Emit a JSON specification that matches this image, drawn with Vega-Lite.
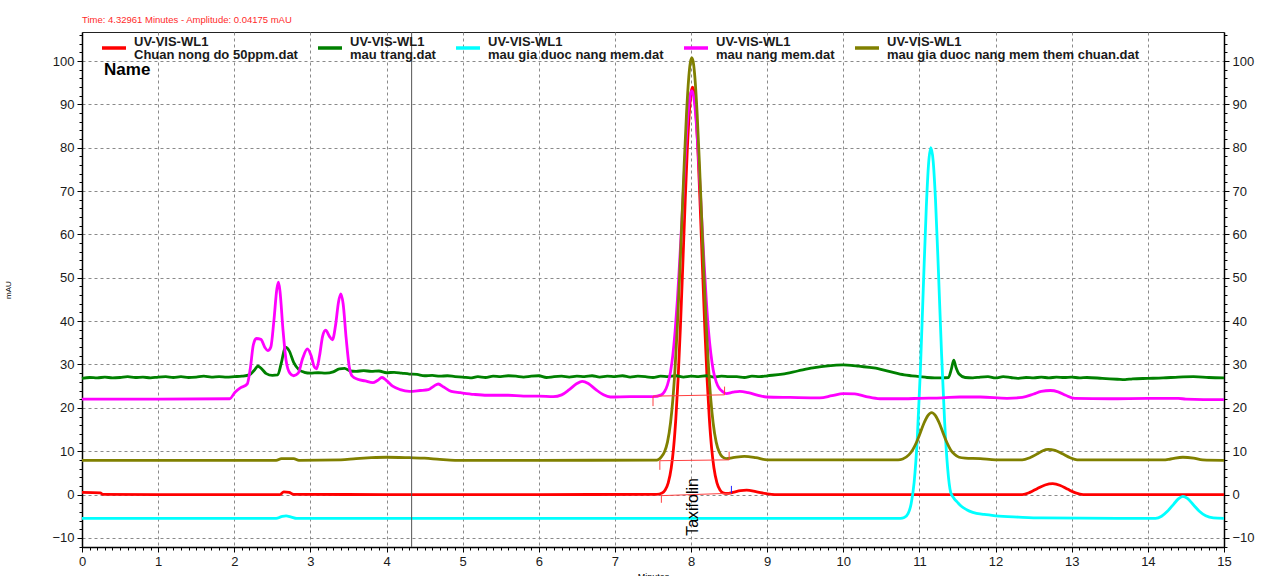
{
"$schema": "https://vega.github.io/schema/vega-lite/v6.json",
"width": 1142, "height": 515,
"autosize": {"type": "none"},
"padding": {"left": 82, "top": 32, "right": 56, "bottom": 29},
"background": "white",
"title": {"text": "Time:  4.32961 Minutes - Amplitude:  0.04175 mAU", "anchor": "start", "frame": "group", "fontSize": 9.5, "fontWeight": "normal", "color": "#ff2a2a", "font": "Liberation Sans", "offset": 0, "dy": 3, "baseline": "bottom"},
"config": {
  "view": {"stroke": "#222", "strokeWidth": 1},
  "font": "Liberation Sans",
  "axis": {"labelFont": "Liberation Sans", "labelFontSize": 13, "labelColor": "#1a1a1a", "domainColor": "#000", "domainWidth": 1.5, "tickColor": "#000", "gridColor": "#8a8a8a", "gridDash": [3, 3], "gridWidth": 1, "titleFont": "Liberation Sans", "titleColor": "#000", "labelFlush": false, "labelOverlap": false, "labelBound": false},
  "legend": {"orient": "none", "legendX": 18, "legendY": 2, "direction": "horizontal", "columns": 5, "symbolType": "stroke", "symbolStrokeWidth": 3.5, "symbolSize": 576, "labelFont": "Liberation Sans", "labelFontWeight": "bold", "labelFontSize": 13, "labelColor": "#1a1a1a", "labelOffset": 6, "columnPadding": 13, "labelLimit": 600, "padding": 0, "title": null}
},
"datasets": {
  "red": [{"t":0,"v":0.5},{"t":0.24,"v":0.4},{"t":0.27,"v":0.05},{"t":1.0,"v":0.0},{"t":2.0,"v":0.0},{"t":2.6,"v":0.0},{"t":2.65,"v":0.6},{"t":2.72,"v":0.5},{"t":2.78,"v":0.05},{"t":4.0,"v":0.0},{"t":6.0,"v":0.0},{"t":7.55,"v":0.05},{"t":7.62,"v":0.36},{"t":7.66,"v":1.04},{"t":7.70,"v":2.69},{"t":7.74,"v":6.18},{"t":7.77,"v":10.7},{"t":7.80,"v":17.5},{"t":7.83,"v":26.8},{"t":7.86,"v":38.6},{"t":7.89,"v":52.3},{"t":7.92,"v":66.4},{"t":7.95,"v":79.3},{"t":7.98,"v":88.9},{"t":8.00,"v":92.7},{"t":8.02,"v":94.0},{"t":8.04,"v":92.7},{"t":8.06,"v":88.9},{"t":8.09,"v":79.3},{"t":8.12,"v":66.4},{"t":8.15,"v":52.3},{"t":8.18,"v":38.6},{"t":8.21,"v":26.8},{"t":8.24,"v":17.5},{"t":8.27,"v":10.7},{"t":8.30,"v":6.18},{"t":8.34,"v":2.69},{"t":8.38,"v":1.04},{"t":8.42,"v":0.4},{"t":8.47,"v":0.25},{"t":8.55,"v":0.5},{"t":8.65,"v":0.9},{"t":8.73,"v":1.0},{"t":8.85,"v":0.7},{"t":8.99,"v":0.2},{"t":9.1,"v":0.0},{"t":11.0,"v":0.0},{"t":12.35,"v":0.0},{"t":12.45,"v":0.5},{"t":12.55,"v":1.4},{"t":12.65,"v":2.2},{"t":12.75,"v":2.5},{"t":12.85,"v":2.1},{"t":12.95,"v":1.2},{"t":13.05,"v":0.4},{"t":13.15,"v":0.0},{"t":15.0,"v":0.0}],
  "green": [{"t":0,"v":26.8},{"t":0.1,"v":27.0},{"t":0.2,"v":26.9},{"t":0.3,"v":27.1},{"t":0.4,"v":26.9},{"t":0.5,"v":27.0},{"t":0.6,"v":27.2},{"t":0.7,"v":27.0},{"t":0.8,"v":27.1},{"t":0.9,"v":26.9},{"t":1.0,"v":27.1},{"t":1.1,"v":27.2},{"t":1.2,"v":27.0},{"t":1.3,"v":27.2},{"t":1.4,"v":27.0},{"t":1.5,"v":27.1},{"t":1.6,"v":27.3},{"t":1.7,"v":27.1},{"t":1.8,"v":27.2},{"t":1.9,"v":27.1},{"t":2.0,"v":27.2},{"t":2.1,"v":27.3},{"t":2.2,"v":27.6},{"t":2.26,"v":28.6},{"t":2.31,"v":29.6},{"t":2.36,"v":29.0},{"t":2.42,"v":27.9},{"t":2.5,"v":27.5},{"t":2.57,"v":27.6},{"t":2.62,"v":30.5},{"t":2.67,"v":34.0},{"t":2.72,"v":33.2},{"t":2.78,"v":30.5},{"t":2.85,"v":28.8},{"t":2.92,"v":28.2},{"t":3.0,"v":28.0},{"t":3.1,"v":28.1},{"t":3.2,"v":28.0},{"t":3.3,"v":28.3},{"t":3.38,"v":29.0},{"t":3.45,"v":29.1},{"t":3.52,"v":28.5},{"t":3.6,"v":28.4},{"t":3.7,"v":28.6},{"t":3.8,"v":28.4},{"t":3.9,"v":28.5},{"t":4.0,"v":28.1},{"t":4.1,"v":28.2},{"t":4.2,"v":28.0},{"t":4.3,"v":27.8},{"t":4.4,"v":27.7},{"t":4.5,"v":27.4},{"t":4.6,"v":27.5},{"t":4.7,"v":27.3},{"t":4.8,"v":27.4},{"t":4.9,"v":27.2},{"t":5.0,"v":27.1},{"t":5.1,"v":26.9},{"t":5.2,"v":27.2},{"t":5.3,"v":27.0},{"t":5.4,"v":27.3},{"t":5.5,"v":27.2},{"t":5.6,"v":27.4},{"t":5.7,"v":27.3},{"t":5.8,"v":27.1},{"t":5.9,"v":27.3},{"t":6.0,"v":27.4},{"t":6.1,"v":27.0},{"t":6.2,"v":27.2},{"t":6.3,"v":27.3},{"t":6.4,"v":27.1},{"t":6.5,"v":27.3},{"t":6.6,"v":27.2},{"t":6.7,"v":27.4},{"t":6.8,"v":27.1},{"t":6.9,"v":27.3},{"t":7.0,"v":27.2},{"t":7.1,"v":27.4},{"t":7.2,"v":27.1},{"t":7.3,"v":27.3},{"t":7.4,"v":27.2},{"t":7.5,"v":27.0},{"t":7.6,"v":27.3},{"t":7.7,"v":27.2},{"t":7.8,"v":27.4},{"t":7.9,"v":27.1},{"t":8.0,"v":27.3},{"t":8.1,"v":27.2},{"t":8.2,"v":27.4},{"t":8.3,"v":27.1},{"t":8.4,"v":27.3},{"t":8.5,"v":27.2},{"t":8.6,"v":27.2},{"t":8.7,"v":27.0},{"t":8.8,"v":27.3},{"t":8.9,"v":27.2},{"t":9.0,"v":27.4},{"t":9.2,"v":27.8},{"t":9.4,"v":28.5},{"t":9.6,"v":29.2},{"t":9.8,"v":29.7},{"t":10.0,"v":29.9},{"t":10.1,"v":29.8},{"t":10.2,"v":29.6},{"t":10.4,"v":29.2},{"t":10.6,"v":28.4},{"t":10.8,"v":27.6},{"t":10.9,"v":27.4},{"t":11.0,"v":27.2},{"t":11.1,"v":27.0},{"t":11.2,"v":26.9},{"t":11.3,"v":26.9},{"t":11.38,"v":27.0},{"t":11.42,"v":29.0},{"t":11.45,"v":31.0},{"t":11.48,"v":29.3},{"t":11.52,"v":27.8},{"t":11.6,"v":27.0},{"t":11.7,"v":26.9},{"t":11.8,"v":27.1},{"t":11.9,"v":27.2},{"t":12.0,"v":26.9},{"t":12.1,"v":27.2},{"t":12.2,"v":27.0},{"t":12.3,"v":26.8},{"t":12.4,"v":27.0},{"t":12.5,"v":26.9},{"t":12.6,"v":27.1},{"t":12.7,"v":26.9},{"t":12.8,"v":27.1},{"t":12.9,"v":27.0},{"t":13.0,"v":27.1},{"t":13.1,"v":26.9},{"t":13.2,"v":27.0},{"t":13.4,"v":26.8},{"t":13.6,"v":26.6},{"t":13.7,"v":26.5},{"t":13.8,"v":26.7},{"t":14.0,"v":26.8},{"t":14.2,"v":26.9},{"t":14.4,"v":27.1},{"t":14.6,"v":27.2},{"t":14.8,"v":27.0},{"t":15.0,"v":26.9}],
  "cyan": [{"t":0,"v":-5.5},{"t":1.0,"v":-5.5},{"t":2.55,"v":-5.5},{"t":2.62,"v":-5.1},{"t":2.68,"v":-4.9},{"t":2.75,"v":-5.2},{"t":2.82,"v":-5.5},{"t":5.0,"v":-5.5},{"t":8.0,"v":-5.5},{"t":10.75,"v":-5.5},{"t":10.80,"v":-5.3},{"t":10.85,"v":-4.4},{"t":10.89,"v":-2.2},{"t":10.93,"v":2.8},{"t":10.97,"v":12.5},{"t":11.01,"v":27.8},{"t":11.05,"v":47.4},{"t":11.09,"v":66.4},{"t":11.12,"v":76.4},{"t":11.15,"v":80.0},{"t":11.18,"v":76.9},{"t":11.21,"v":68.2},{"t":11.25,"v":51.1},{"t":11.29,"v":32.5},{"t":11.33,"v":16.9},{"t":11.37,"v":6.1},{"t":11.41,"v":0.5},{"t":11.45,"v":-0.8},{"t":11.50,"v":-1.8},{"t":11.55,"v":-2.7},{"t":11.62,"v":-3.5},{"t":11.70,"v":-4.1},{"t":11.85,"v":-4.6},{"t":12.0,"v":-4.9},{"t":12.3,"v":-5.2},{"t":12.6,"v":-5.4},{"t":14.1,"v":-5.5},{"t":14.18,"v":-5.0},{"t":14.26,"v":-3.8},{"t":14.34,"v":-2.2},{"t":14.40,"v":-1.0},{"t":14.46,"v":-0.4},{"t":14.52,"v":-0.9},{"t":14.60,"v":-2.4},{"t":14.68,"v":-3.9},{"t":14.76,"v":-4.9},{"t":14.86,"v":-5.4},{"t":15.0,"v":-5.5}],
  "pink": [{"t":0,"v":22.0},{"t":1.0,"v":22.0},{"t":1.94,"v":22.1},{"t":2.01,"v":23.6},{"t":2.08,"v":24.6},{"t":2.17,"v":25.5},{"t":2.21,"v":29.0},{"t":2.25,"v":34.5},{"t":2.29,"v":36.0},{"t":2.35,"v":35.8},{"t":2.40,"v":34.0},{"t":2.44,"v":33.2},{"t":2.48,"v":34.0},{"t":2.52,"v":40.0},{"t":2.56,"v":47.5},{"t":2.58,"v":49.0},{"t":2.60,"v":47.0},{"t":2.64,"v":38.0},{"t":2.68,"v":31.0},{"t":2.73,"v":28.0},{"t":2.78,"v":27.4},{"t":2.84,"v":28.0},{"t":2.90,"v":31.5},{"t":2.96,"v":33.6},{"t":3.01,"v":32.0},{"t":3.05,"v":29.5},{"t":3.08,"v":29.0},{"t":3.12,"v":32.0},{"t":3.16,"v":36.5},{"t":3.20,"v":37.9},{"t":3.25,"v":36.5},{"t":3.29,"v":35.7},{"t":3.33,"v":39.0},{"t":3.37,"v":44.5},{"t":3.40,"v":46.3},{"t":3.43,"v":44.0},{"t":3.47,"v":36.0},{"t":3.51,"v":29.5},{"t":3.55,"v":27.3},{"t":3.62,"v":26.6},{"t":3.72,"v":26.2},{"t":3.82,"v":25.8},{"t":3.88,"v":26.3},{"t":3.94,"v":27.0},{"t":4.0,"v":26.3},{"t":4.08,"v":25.0},{"t":4.18,"v":24.2},{"t":4.3,"v":23.8},{"t":4.44,"v":24.0},{"t":4.55,"v":24.2},{"t":4.62,"v":25.0},{"t":4.68,"v":25.5},{"t":4.75,"v":24.8},{"t":4.85,"v":23.8},{"t":4.97,"v":23.5},{"t":5.15,"v":23.1},{"t":5.32,"v":22.9},{"t":5.6,"v":22.9},{"t":5.8,"v":22.7},{"t":6.0,"v":22.7},{"t":6.19,"v":22.6},{"t":6.3,"v":23.0},{"t":6.4,"v":24.2},{"t":6.5,"v":25.6},{"t":6.57,"v":26.1},{"t":6.65,"v":25.6},{"t":6.75,"v":24.2},{"t":6.85,"v":23.0},{"t":6.94,"v":22.5},{"t":7.2,"v":22.6},{"t":7.5,"v":22.6},{"t":7.61,"v":23.0},{"t":7.65,"v":23.7},{"t":7.69,"v":25.3},{"t":7.73,"v":28.3},{"t":7.76,"v":32.1},{"t":7.79,"v":37.6},{"t":7.82,"v":44.8},{"t":7.85,"v":53.7},{"t":7.88,"v":63.6},{"t":7.91,"v":73.8},{"t":7.94,"v":82.9},{"t":7.97,"v":89.6},{"t":7.99,"v":92.2},{"t":8.01,"v":93.1},{"t":8.03,"v":92.2},{"t":8.05,"v":89.6},{"t":8.08,"v":82.9},{"t":8.11,"v":73.8},{"t":8.14,"v":63.6},{"t":8.17,"v":53.7},{"t":8.20,"v":44.8},{"t":8.23,"v":37.6},{"t":8.26,"v":32.5},{"t":8.29,"v":28.8},{"t":8.33,"v":26.0},{"t":8.37,"v":24.5},{"t":8.41,"v":23.8},{"t":8.46,"v":23.3},{"t":8.55,"v":23.6},{"t":8.64,"v":23.8},{"t":8.75,"v":23.5},{"t":8.88,"v":22.9},{"t":8.99,"v":22.5},{"t":9.3,"v":22.4},{"t":9.69,"v":22.3},{"t":9.85,"v":22.8},{"t":10.0,"v":23.3},{"t":10.15,"v":23.2},{"t":10.3,"v":22.6},{"t":10.48,"v":22.1},{"t":10.8,"v":22.1},{"t":11.0,"v":22.2},{"t":11.3,"v":22.3},{"t":11.53,"v":22.5},{"t":11.8,"v":22.5},{"t":12.15,"v":22.2},{"t":12.35,"v":22.4},{"t":12.5,"v":23.2},{"t":12.6,"v":23.8},{"t":12.72,"v":24.0},{"t":12.82,"v":23.7},{"t":12.92,"v":22.9},{"t":13.04,"v":22.2},{"t":13.5,"v":22.1},{"t":14.0,"v":22.2},{"t":14.4,"v":22.2},{"t":14.5,"v":22.0},{"t":14.73,"v":21.9},{"t":15.0,"v":21.9}],
  "olive": [{"t":0,"v":7.9},{"t":1.0,"v":7.9},{"t":2.55,"v":7.9},{"t":2.62,"v":8.3},{"t":2.78,"v":8.3},{"t":2.85,"v":7.9},{"t":3.4,"v":8.0},{"t":3.6,"v":8.3},{"t":3.8,"v":8.5},{"t":4.0,"v":8.6},{"t":4.3,"v":8.5},{"t":4.5,"v":8.4},{"t":4.7,"v":8.1},{"t":4.9,"v":7.9},{"t":6.0,"v":7.9},{"t":7.55,"v":7.95},{"t":7.61,"v":8.7},{"t":7.65,"v":9.8},{"t":7.69,"v":12.1},{"t":7.73,"v":16.5},{"t":7.76,"v":21.8},{"t":7.79,"v":29.2},{"t":7.82,"v":38.8},{"t":7.85,"v":50.5},{"t":7.88,"v":63.4},{"t":7.91,"v":76.3},{"t":7.94,"v":87.8},{"t":7.97,"v":96.3},{"t":7.99,"v":99.6},{"t":8.01,"v":100.7},{"t":8.03,"v":99.6},{"t":8.05,"v":96.3},{"t":8.08,"v":87.8},{"t":8.11,"v":76.3},{"t":8.14,"v":63.4},{"t":8.17,"v":50.5},{"t":8.20,"v":38.8},{"t":8.23,"v":29.2},{"t":8.26,"v":21.8},{"t":8.29,"v":16.5},{"t":8.33,"v":12.1},{"t":8.37,"v":9.8},{"t":8.41,"v":8.7},{"t":8.46,"v":8.3},{"t":8.55,"v":8.5},{"t":8.7,"v":8.8},{"t":8.85,"v":8.5},{"t":9.0,"v":8.0},{"t":10.0,"v":8.0},{"t":10.72,"v":8.0},{"t":10.78,"v":8.2},{"t":10.86,"v":9.15},{"t":10.91,"v":10.3},{"t":10.96,"v":12.0},{"t":11.01,"v":14.2},{"t":11.06,"v":16.5},{"t":11.11,"v":18.2},{"t":11.16,"v":18.9},{"t":11.21,"v":18.2},{"t":11.26,"v":16.5},{"t":11.31,"v":14.2},{"t":11.36,"v":12.0},{"t":11.41,"v":10.3},{"t":11.46,"v":9.3},{"t":11.52,"v":8.6},{"t":11.6,"v":8.4},{"t":11.8,"v":8.3},{"t":12.0,"v":8.0},{"t":12.35,"v":8.0},{"t":12.45,"v":8.5},{"t":12.55,"v":9.4},{"t":12.62,"v":10.1},{"t":12.69,"v":10.4},{"t":12.78,"v":10.2},{"t":12.88,"v":9.4},{"t":12.98,"v":8.5},{"t":13.07,"v":8.0},{"t":14.2,"v":8.0},{"t":14.3,"v":8.2},{"t":14.46,"v":8.6},{"t":14.6,"v":8.4},{"t":14.72,"v":8.0},{"t":15.0,"v":7.9}],
  "integ": [
    {"t1":7.61,"v1":-0.25,"t2":8.53,"v2":0.3,"c":"#ff4040"},
    {"t1":7.61,"v1":-0.1,"t2":7.61,"v2":-1.9,"c":"#ff4040"},
    {"t1":8.53,"v1":0.3,"t2":8.53,"v2":2.0,"c":"#2020ff"},
    {"t1":7.59,"v1":7.8,"t2":8.50,"v2":8.0,"c":"#ff4040"},
    {"t1":7.59,"v1":7.8,"t2":7.59,"v2":5.7,"c":"#ff4040"},
    {"t1":8.50,"v1":8.0,"t2":8.50,"v2":9.9,"c":"#ff4040"},
    {"t1":7.50,"v1":22.7,"t2":8.44,"v2":23.0,"c":"#ff4040"},
    {"t1":7.50,"v1":22.7,"t2":7.50,"v2":20.4,"c":"#ff4040"},
    {"t1":8.44,"v1":23.0,"t2":8.44,"v2":24.9,"c":"#ff4040"}
  ],
  "dummy": [{"t":0,"v":0}]
},
"layer": [
  {
    "data": {"name": "red"},
    "mark": {"type": "line", "interpolate": "monotone", "strokeWidth": 2.8},
    "encoding": {
      "x": {"field": "t", "type": "quantitative", "scale": {"domain": [0, 15], "nice": false, "zero": false},
        "axis": {"orient": "bottom", "values": [0,1,2,3,4,5,6,7,8,9,10,11,12,13,14,15], "grid": true, "tickSize": 5, "labelPadding": 3, "title": "Minutes", "titleFontSize": 9, "titleFontWeight": "normal", "titleY": 25, "titleBaseline": "top"}},
      "y": {"field": "v", "type": "quantitative", "scale": {"domain": [-12.1, 106.7], "nice": false, "zero": false},
        "axis": {"orient": "left", "values": [-10,0,10,20,30,40,50,60,70,80,90,100], "grid": true, "tickSize": 5, "labelPadding": 3, "title": "mAU", "titleFontSize": 8, "titleFontWeight": "normal", "titleX": -70}},
      "color": {"datum": "Chuan nong do 50ppm.dat", "type": "nominal",
        "scale": {"domain": ["Chuan nong do 50ppm.dat", "mau trang.dat", "mau gia duoc nang mem.dat", "mau nang mem.dat", "mau gia duoc nang mem them chuan.dat"], "range": ["#ff0000", "#008000", "#00ffff", "#ff00ff", "#808000"]},
        "legend": {"labelExpr": "['UV-VIS-WL1', datum.label]", "encode": {"labels": {"update": {"dy": {"value": -6.5}, "lineHeight": {"value": 13.5}}}}}}
    }
  },
  {
    "data": {"name": "green"},
    "mark": {"type": "line", "interpolate": "monotone", "strokeWidth": 2.8},
    "encoding": {
      "x": {"field": "t", "type": "quantitative", "scale": {"domain": [0, 15], "nice": false, "zero": false}, "axis": null},
      "y": {"field": "v", "type": "quantitative", "scale": {"domain": [-12.1, 106.7], "nice": false, "zero": false}, "axis": null},
      "color": {"datum": "mau trang.dat", "type": "nominal"}
    }
  },
  {
    "data": {"name": "cyan"},
    "mark": {"type": "line", "interpolate": "monotone", "strokeWidth": 2.8},
    "encoding": {
      "x": {"field": "t", "type": "quantitative", "scale": {"domain": [0, 15], "nice": false, "zero": false}, "axis": null},
      "y": {"field": "v", "type": "quantitative", "scale": {"domain": [-12.1, 106.7], "nice": false, "zero": false}, "axis": null},
      "color": {"datum": "mau gia duoc nang mem.dat", "type": "nominal"}
    }
  },
  {
    "data": {"name": "pink"},
    "mark": {"type": "line", "interpolate": "monotone", "strokeWidth": 2.8},
    "encoding": {
      "x": {"field": "t", "type": "quantitative", "scale": {"domain": [0, 15], "nice": false, "zero": false}, "axis": null},
      "y": {"field": "v", "type": "quantitative", "scale": {"domain": [-12.1, 106.7], "nice": false, "zero": false}, "axis": null},
      "color": {"datum": "mau nang mem.dat", "type": "nominal"}
    }
  },
  {
    "data": {"name": "olive"},
    "mark": {"type": "line", "interpolate": "monotone", "strokeWidth": 2.8},
    "encoding": {
      "x": {"field": "t", "type": "quantitative", "scale": {"domain": [0, 15], "nice": false, "zero": false}, "axis": null},
      "y": {"field": "v", "type": "quantitative", "scale": {"domain": [-12.1, 106.7], "nice": false, "zero": false}, "axis": null},
      "color": {"datum": "mau gia duoc nang mem them chuan.dat", "type": "nominal"}
    }
  },
  {
    "data": {"name": "integ"},
    "mark": {"type": "rule", "strokeWidth": 1},
    "encoding": {
      "x": {"field": "t1", "type": "quantitative", "scale": {"domain": [0, 15], "nice": false, "zero": false}, "axis": null},
      "x2": {"field": "t2"},
      "y": {"field": "v1", "type": "quantitative", "scale": {"domain": [-12.1, 106.7], "nice": false, "zero": false}, "axis": null},
      "y2": {"field": "v2"},
      "stroke": {"field": "c", "type": "nominal", "scale": null, "legend": null}
    }
  },
  {
    "data": {"values": [{"t": 4.32961}]},
    "mark": {"type": "rule", "color": "#555555", "strokeWidth": 1},
    "encoding": {
      "x": {"field": "t", "type": "quantitative", "scale": {"domain": [0, 15], "nice": false, "zero": false}, "axis": null}
    }
  },
  {
    "data": {"values": [{"t": 0.29, "v": 97.9, "label": "Name"}]},
    "mark": {"type": "text", "align": "left", "baseline": "middle", "fontSize": 17, "fontWeight": "bold", "font": "Liberation Sans", "color": "#000"},
    "encoding": {
      "x": {"field": "t", "type": "quantitative", "scale": {"domain": [0, 15], "nice": false, "zero": false}, "axis": null},
      "y": {"field": "v", "type": "quantitative", "scale": {"domain": [-12.1, 106.7], "nice": false, "zero": false}, "axis": null},
      "text": {"field": "label"}
    }
  },
  {
    "data": {"values": [{"t": 8.025, "v": -2.86, "label": "Taxifolin"}]},
    "mark": {"type": "text", "align": "center", "baseline": "middle", "angle": 270, "fontSize": 16, "font": "Liberation Sans", "color": "#000"},
    "encoding": {
      "x": {"field": "t", "type": "quantitative", "scale": {"domain": [0, 15], "nice": false, "zero": false}, "axis": null},
      "y": {"field": "v", "type": "quantitative", "scale": {"domain": [-12.1, 106.7], "nice": false, "zero": false}, "axis": null},
      "text": {"field": "label"}
    }
  },
  {
    "data": {"name": "dummy"},
    "mark": {"type": "point", "opacity": 0},
    "encoding": {
      "x": {"field": "t", "type": "quantitative", "scale": {"domain": [0, 15], "nice": false, "zero": false},
        "axis": {"orient": "bottom", "values": [0,0.1,0.2,0.3,0.4,0.5,0.6,0.7,0.8,0.9,1,1.1,1.2,1.3,1.4,1.5,1.6,1.7,1.8,1.9,2,2.1,2.2,2.3,2.4,2.5,2.6,2.7,2.8,2.9,3,3.1,3.2,3.3,3.4,3.5,3.6,3.7,3.8,3.9,4,4.1,4.2,4.3,4.4,4.5,4.6,4.7,4.8,4.9,5,5.1,5.2,5.3,5.4,5.5,5.6,5.7,5.8,5.9,6,6.1,6.2,6.3,6.4,6.5,6.6,6.7,6.8,6.9,7,7.1,7.2,7.3,7.4,7.5,7.6,7.7,7.8,7.9,8,8.1,8.2,8.3,8.4,8.5,8.6,8.7,8.8,8.9,9,9.1,9.2,9.3,9.4,9.5,9.6,9.7,9.8,9.9,10,10.1,10.2,10.3,10.4,10.5,10.6,10.7,10.8,10.9,11,11.1,11.2,11.3,11.4,11.5,11.6,11.7,11.8,11.9,12,12.1,12.2,12.3,12.4,12.5,12.6,12.7,12.8,12.9,13,13.1,13.2,13.3,13.4,13.5,13.6,13.7,13.8,13.9,14,14.1,14.2,14.3,14.4,14.5,14.6,14.7,14.8,14.9,15], "tickSize": 3, "labels": false, "grid": false, "domain": false, "title": null}},
      "y": {"field": "v", "type": "quantitative", "scale": {"domain": [-12.1, 106.7], "nice": false, "zero": false},
        "axis": {"orient": "left", "values": [-12,-10,-8,-6,-4,-2,0,2,4,6,8,10,12,14,16,18,20,22,24,26,28,30,32,34,36,38,40,42,44,46,48,50,52,54,56,58,60,62,64,66,68,70,72,74,76,78,80,82,84,86,88,90,92,94,96,98,100,102,104,106], "tickSize": 3, "labels": false, "grid": false, "domain": false, "title": null}}
    }
  },
  {
    "data": {"name": "dummy"},
    "mark": {"type": "point", "opacity": 0},
    "encoding": {
      "x": {"field": "t", "type": "quantitative", "scale": {"domain": [0, 15], "nice": false, "zero": false}, "axis": null},
      "y": {"field": "v", "type": "quantitative", "scale": {"domain": [-12.1, 106.7], "nice": false, "zero": false},
        "axis": {"orient": "right", "values": [-10,0,10,20,30,40,50,60,70,80,90,100], "tickSize": 5, "labelPadding": 3, "grid": false, "title": null}}
    }
  },
  {
    "data": {"name": "dummy"},
    "mark": {"type": "point", "opacity": 0},
    "encoding": {
      "x": {"field": "t", "type": "quantitative", "scale": {"domain": [0, 15], "nice": false, "zero": false}, "axis": null},
      "y": {"field": "v", "type": "quantitative", "scale": {"domain": [-12.1, 106.7], "nice": false, "zero": false},
        "axis": {"orient": "right", "values": [-12,-10,-8,-6,-4,-2,0,2,4,6,8,10,12,14,16,18,20,22,24,26,28,30,32,34,36,38,40,42,44,46,48,50,52,54,56,58,60,62,64,66,68,70,72,74,76,78,80,82,84,86,88,90,92,94,96,98,100,102,104,106], "tickSize": 3, "labels": false, "grid": false, "domain": false, "title": null}}
    }
  }
],
"resolve": {"axis": {"x": "independent", "y": "independent"}}
}
